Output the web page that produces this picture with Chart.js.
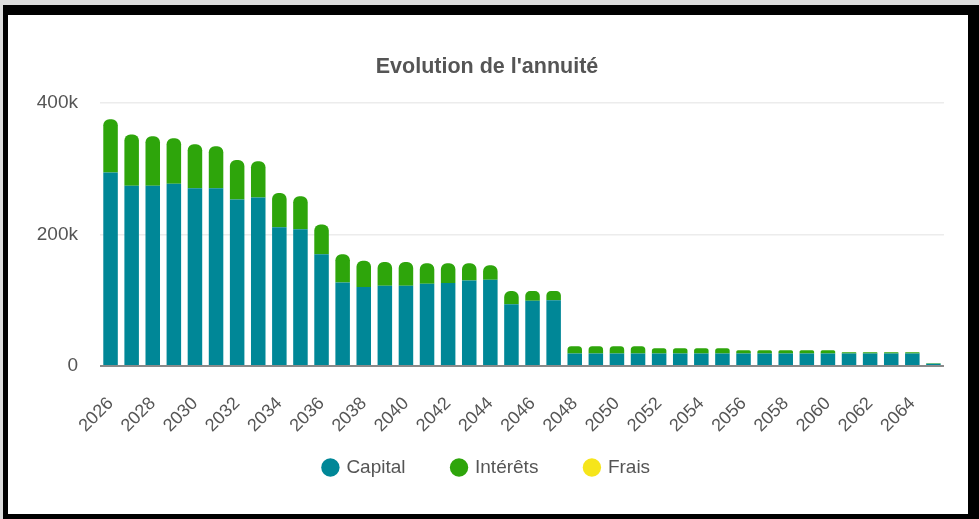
<!DOCTYPE html>
<html>
<head>
<meta charset="utf-8">
<script src="https://cdn.jsdelivr.net/npm/chart.js@4.4.0/dist/chart.umd.min.js"></script>
<style>
  html, body { margin: 0; padding: 0; }
  body { width: 979px; height: 519px; background: #dcdcdc; position: relative; overflow: hidden; }
  #frame { position: absolute; left: 3px; top: 5px; right: 0; bottom: 0; background: #000; }
  #card  { position: absolute; left: 8px; top: 15px; width: 960px; height: 499px; background: #fff; }
  #card canvas { display: block; }
</style>
</head>
<body>
<div id="frame"></div>
<div id="card"><canvas id="annuite" width="960" height="499"></canvas></div>
<script>
// ── data (euros) ─────────────────────────────────────────────────────────
const years = [
  "2026","2027","2028","2029","2030","2031","2032","2033","2034","2035",
  "2036","2037","2038","2039","2040","2041","2042","2043","2044","2045",
  "2046","2047","2048","2049","2050","2051","2052","2053","2054","2055",
  "2056","2057","2058","2059","2060","2061","2062","2063","2064","2065"
];
const capital = [
  294000,274000,274000,277000,270000,270000,253000,256000,211000,208000,
  170000,127000,120000,122000,122000,125000,126000,130000,131000,94000,
  99000,100000,19000,19000,19000,19000,19000,19000,19000,19000,
  19000,19000,19000,19000,19000,19000,19000,19000,19000,3500
];
const interets = [
  81000,78000,75000,69000,67000,64000,60000,55000,52000,50000,
  45000,43000,40000,36000,36000,31000,30000,26000,22000,20000,
  15000,14000,11000,11000,11000,11000,8000,8000,8000,8000,
  5000,5000,5000,5000,5000,2000,2000,2000,2000,500
];
const frais = [
  0,0,0,0,0,0,0,0,0,0,
  0,0,0,0,0,0,0,0,0,0,
  0,0,0,0,0,0,0,0,0,0,
  0,0,0,0,0,0,0,0,0,0
];
const yTicks = [0, 200000, 400000];

// ── style ────────────────────────────────────────────────────────────────
const TEAL = "#008797", GREEN = "#2ea50b", YELLOW = "#f6e51b";
const FONT = "'Liberation Sans', Arial, sans-serif";
const LEGEND_LIFT = 30;   // wide item spacing needs big padding, pull the row back up

const liftLegend = {
  id: "liftLegend",
  afterLayout(chart) {
    const lg = chart.legend;
    if (!lg) return;
    lg.top -= LEGEND_LIFT;
    lg.bottom -= LEGEND_LIFT;
  },
};

new Chart(document.getElementById("annuite").getContext("2d"), {
  type: "bar",
  data: {
    labels: years,
    datasets: [
      { label: "Capital",  data: capital,  backgroundColor: TEAL,   borderRadius: 0 },
      { label: "Intérêts", data: interets, backgroundColor: GREEN,
        borderRadius: { topLeft: 6, topRight: 6, bottomLeft: 0, bottomRight: 0 } },
      { label: "Frais",    data: frais,    backgroundColor: YELLOW, borderRadius: 0 },
    ],
  },
  plugins: [liftLegend],
  options: {
    responsive: false, animation: false,
    layout: { padding: { left: 22, right: 24, top: 29, bottom: -3 } },
    datasets: { bar: { categoryPercentage: 0.8, barPercentage: 0.86 } },
    scales: {
      x: {
        stacked: true,
        grid: { display: false },
        border: { display: false },
        afterFit: s => { s.height = 75; },
        ticks: {
          autoSkip: false, maxRotation: 45, minRotation: 45, padding: 19,
          color: "#555", font: { family: FONT, size: 18 },
          callback: (v, i) => i % 2 === 0 ? years[i] : "",
        },
      },
      y: {
        stacked: true, min: 0, max: 400000,
        afterBuildTicks: s => { s.ticks = yTicks.map(v => ({ value: v })); },
        afterFit: s => { s.width = 70; },
        border: { display: false },
        grid: {
          color: c => c.tick && c.tick.value === 0 ? "#8a8a8a" : "#ececec",
          lineWidth: c => c.tick && c.tick.value === 0 ? 2 : 1.5,
          drawTicks: false,
        },
        ticks: {
          padding: 22, color: "#555", font: { family: FONT, size: 19 },
          callback: v => v === 0 ? "0" : (v / 1000) + "k",
        },
      },
    },
    plugins: {
      title: {
        display: true, text: "Evolution de l'annuité",
        color: "#555", font: { family: FONT, size: 21.5, weight: "bold" },
        padding: { top: 10, bottom: 23 },
      },
      legend: {
        position: "bottom",
        labels: {
          usePointStyle: true, pointStyle: "circle", boxWidth: 13, boxHeight: 13,
          padding: 47, color: "#555", font: { family: FONT, size: 19 },
        },
      },
      tooltip: { enabled: false },
    },
  },
});
</script>
</body>
</html>
